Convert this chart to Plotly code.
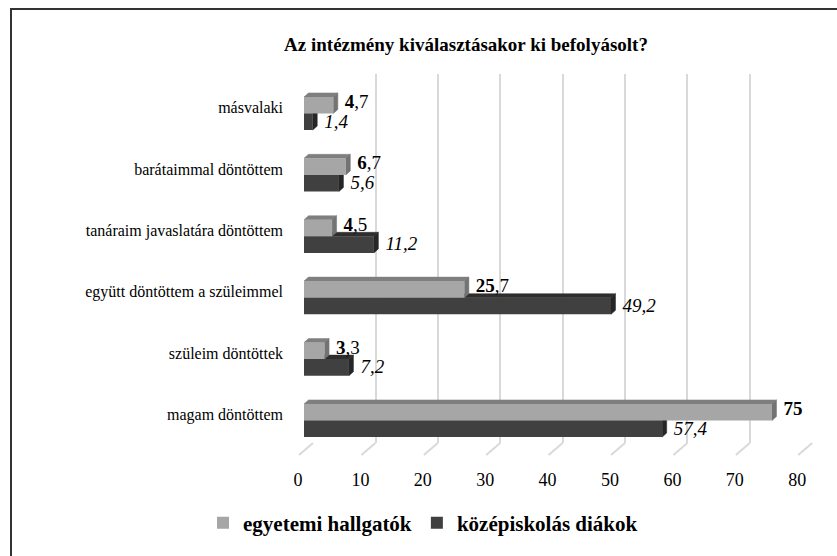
import plotly.graph_objects as go

# ---- data (top-to-bottom as in the picture) ----
categories = [
    "másvalaki",
    "barátaimmal döntöttem",
    "tanáraim javaslatára döntöttem",
    "együtt döntöttem a szüleimmel",
    "szüleim döntöttek",
    "magam döntöttem",
]
egyetemi = [4.7, 6.7, 4.5, 25.7, 3.3, 75]
kozepiskolas = [1.4, 5.6, 11.2, 49.2, 7.2, 57.4]
x_ticks = [0, 10, 20, 30, 40, 50, 60, 70, 80]
series_names = ["egyetemi hallgatók", "középiskolás diákok"]
title_text = "Az intézmény kiválasztásakor ki befolyásolt?"

# ---- style ----
W, H = 837, 556
FONT = "Times New Roman"
LIGHT_FRONT, LIGHT_TOP, LIGHT_SIDE = "#a6a6a6", "#7f7f7f", "#737373"
DARK_FRONT, DARK_TOP, DARK_SIDE = "#404040", "#2e2e2e", "#262626"
GRID = "#d9d9d9"

def fx(px):
    return px / W

def fy(py):
    return 1 - py / H

n = len(categories)
ypos = [n - 1 - i for i in range(n)]  # bottom = 0

XMAX = 80
PX_PER_UNIT = 6.24
bar_x0, bar_x1 = 304, 304 + XMAX * PX_PER_UNIT
grid_x0, grid_x1 = 313, 313 + XMAX * PX_PER_UNIT
bar_ytop, bar_ybot = 82.8, 451.2
grid_ytop, grid_ybot = 74, 443
PX_PER_CAT = (bar_ybot - bar_ytop) / n

bw = 0.27                      # bar thickness (category units)
dx = 4.5 / PX_PER_UNIT         # depth offset in x
dy = 4.0 / PX_PER_CAT          # depth offset in y

def faces(values, centers):
    tops_x, tops_y, sides_x, sides_y = [], [], [], []
    for v, c in zip(values, centers):
        yb, yt = c - bw / 2, c + bw / 2
        tops_x += [0, dx, v + dx, v, 0, None]
        tops_y += [yt, yt + dy, yt + dy, yt, yt, None]
        sides_x += [v, v, v + dx, v + dx, v, None]
        sides_y += [yb, yt, yt + dy, yb + dy, yb, None]
    return tops_x, tops_y, sides_x, sides_y

light_c = [p + bw / 2 for p in ypos]
dark_c = [p - bw / 2 for p in ypos]

fig = go.Figure()

# back-wall grid subplot
fig.add_trace(go.Scatter(x=[0], y=[0], mode="markers", marker=dict(opacity=0),
                         hoverinfo="skip", showlegend=False, xaxis="x", yaxis="y"))

# 3D top/side faces (beneath the fronts)
dtx, dty, dsx, dsy = faces(kozepiskolas, dark_c)
ltx, lty, lsx, lsy = faces(egyetemi, light_c)
for xs, ys, col in [(dtx, dty, DARK_TOP), (dsx, dsy, DARK_SIDE),
                    (ltx, lty, LIGHT_TOP), (lsx, lsy, LIGHT_SIDE)]:
    fig.add_trace(go.Scatter(x=xs, y=ys, fill="toself", fillcolor=col, mode="lines",
                             line=dict(width=0.5, color=col), hoverinfo="skip",
                             showlegend=False, xaxis="x2", yaxis="y2"))

# bar fronts
fig.add_trace(go.Bar(x=kozepiskolas, y=dark_c, orientation="h", width=bw,
                     marker=dict(color=DARK_FRONT, line=dict(width=0)),
                     name=series_names[1], legendrank=2, xaxis="x3", yaxis="y3",
                     customdata=categories, hovertemplate="%{customdata}: %{x}<extra></extra>"))
fig.add_trace(go.Bar(x=egyetemi, y=light_c, orientation="h", width=bw,
                     marker=dict(color=LIGHT_FRONT, line=dict(width=0)),
                     name=series_names[0], legendrank=1, xaxis="x3", yaxis="y3",
                     customdata=categories, hovertemplate="%{customdata}: %{x}<extra></extra>"))

def fmt(v):
    return ("%g" % v).replace(".", ",")

def fmt_light(v):
    s = fmt(v)
    if "," in s:
        a, b = s.split(",")
        return "<b>%s</b>,%s" % (a, b)
    return "<b>%s</b>" % s

gap = 7 / PX_PER_UNIT
up = 2 / PX_PER_CAT
fig.add_trace(go.Scatter(x=[v + dx + gap for v in egyetemi], y=[c + up for c in light_c], mode="text",
                         text=[fmt_light(v) for v in egyetemi], textposition="middle right",
                         textfont=dict(family=FONT, size=19, color="#000"),
                         hoverinfo="skip", showlegend=False, cliponaxis=False,
                         xaxis="x3", yaxis="y3"))
fig.add_trace(go.Scatter(x=[v + dx + gap for v in kozepiskolas], y=[c - up / 2 for c in dark_c], mode="text",
                         text=["<i>%s</i>" % fmt(v) for v in kozepiskolas], textposition="middle right",
                         textfont=dict(family=FONT, size=19, color="#000"),
                         hoverinfo="skip", showlegend=False, cliponaxis=False,
                         xaxis="x3", yaxis="y3"))

# floor diagonals of the grid lines
shapes = []
for t in x_ticks:
    shapes.append(dict(type="line", xref="paper", yref="paper", layer="below",
                       x0=fx(grid_x0 + t * PX_PER_UNIT), y0=fy(grid_ybot),
                       x1=fx(299 + t * PX_PER_UNIT), y1=fy(455),
                       line=dict(color=GRID, width=2)))
# outer frame
shapes.append(dict(type="rect", xref="paper", yref="paper",
                   x0=fx(11), y0=-0.02, x1=1.02, y1=fy(9),
                   line=dict(color="#333333", width=2)))

bar_dom_x = [fx(bar_x0), fx(bar_x1)]
bar_dom_y = [fy(bar_ybot), fy(bar_ytop)]
yr = [-0.5, n - 0.5]

fig.update_layout(
    width=W, height=H, autosize=False,
    margin=dict(l=0, r=0, t=0, b=0, pad=0),
    paper_bgcolor="white", plot_bgcolor="rgba(0,0,0,0)",
    barmode="overlay",
    font=dict(family=FONT, color="#000"),
    title=dict(text="<b>%s</b>" % title_text, x=fx(466), y=fy(44),
               xanchor="center", yanchor="middle", xref="paper", yref="paper",
               font=dict(family=FONT, size=19, color="#000")),
    shapes=shapes,
    xaxis=dict(domain=[fx(grid_x0), fx(grid_x1)], range=[-0.05, XMAX + 0.05], anchor="y",
               tickvals=x_ticks, showgrid=True, gridcolor=GRID, gridwidth=2, automargin=False,
               showticklabels=False, ticks="", zeroline=False, showline=False, fixedrange=True),
    yaxis=dict(domain=[fy(grid_ybot), fy(grid_ytop)], range=[0, 1], anchor="x",
               visible=False, fixedrange=True, automargin=False),
    xaxis2=dict(domain=bar_dom_x, range=[0, XMAX], anchor="y2", visible=False, automargin=False),
    yaxis2=dict(domain=bar_dom_y, range=yr, anchor="x2", visible=False, automargin=False),
    xaxis3=dict(domain=bar_dom_x, range=[0, XMAX], anchor="y3", automargin=False,
                tickvals=x_ticks, ticktext=[str(t) for t in x_ticks],
                showgrid=False, zeroline=False, showline=False, ticks="",
                ticklabelshift=-6, ticklabelstandoff=16,
                tickfont=dict(family=FONT, size=18, color="#000")),
    yaxis3=dict(domain=bar_dom_y, range=yr, anchor="x3", automargin=False,
                tickvals=ypos, ticktext=categories,
                showgrid=False, zeroline=False, showline=False, ticks="",
                ticklabelshift=-6, ticklabelstandoff=20,
                tickfont=dict(family=FONT, size=16, color="#000")),
    legend=dict(orientation="h", x=fx(203), y=fy(523), xanchor="left", yanchor="middle",
                font=dict(family=FONT, size=21, color="#000", weight="bold"),
                traceorder="normal", bgcolor="rgba(0,0,0,0)"),
)

fig.write_html("out.html", config={"displayModeBar": False},
               post_script="document.body.style.margin='0';document.body.style.overflow='hidden';")
